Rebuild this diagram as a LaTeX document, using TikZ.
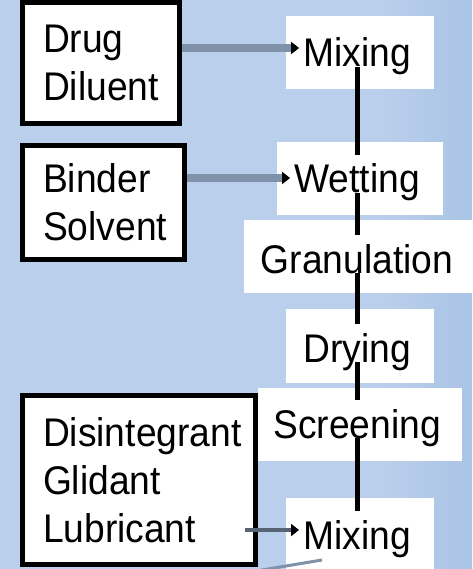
\documentclass[tikz,border=0pt]{standalone}
\usepackage{fontspec}
\setmainfont[FakeStretch=0.93]{Liberation Sans}
\usetikzlibrary{arrows.meta}
\hyphenpenalty=10000
\exhyphenpenalty=10000
\definecolor{bgA}{RGB}{186,207,235}
\definecolor{bgB}{RGB}{170,196,230}
\definecolor{feedc}{RGB}{128,145,170}
\definecolor{feedd}{RGB}{88,100,118}
\begin{document}
\begin{tikzpicture}[x=1pt,y=-1pt,
  every node/.style={font=\fontsize{40}{48}\selectfont},
  inbox/.style={draw=black, line width=5pt, fill=white, align=left, inner sep=0pt},
  stage/.style={fill=white, inner sep=0pt},
  steptext/.style={inner sep=0pt, text height=38pt, text depth=0pt},
  flow/.style={line width=5pt, draw=black},
  feed/.style={line width=8pt, draw=feedc, -{Triangle[length=8pt,width=12pt,color=black]}, shorten >=4pt}
]
% background
\fill[bgA] (0,0) rectangle (472,569);
\shade[left color=bgA, right color=bgB] (380,0) rectangle (472,569);
\useasboundingbox (0,0) rectangle (472,569);

% input boxes
\node[inbox, minimum width=157pt, minimum height=121pt, text width=116pt] (drug) at (101,63) {Drug\\Diluent};
\node[inbox, minimum width=162pt, minimum height=114pt, text width=121pt] (binder) at (103.5,202.5) {Binder\\Solvent};
\node[inbox, minimum width=233pt, minimum height=169pt, text width=192pt] (dis) at (139,480) {\mbox{Disintegrant}\\Glidant\\Lubricant};

% stage backgrounds
\node[stage, minimum width=148pt, minimum height=73pt] (mix1) at (360,52.5) {};
\node[stage, minimum width=166pt, minimum height=73pt] (wet) at (360,178.5) {};
\node[stage, minimum width=232pt, minimum height=73pt] (gran) at (360,256.5) {};
\node[stage, minimum width=148pt, minimum height=74pt] (dry) at (360,346) {};
\node[stage, minimum width=204pt, minimum height=73pt] (scr) at (360,424.5) {};
\node[stage, minimum width=148pt, minimum height=73pt] (mix2) at (360,534.5) {};

% stage texts
\node[steptext] (mix1t) at (357,48) {Mixing};
\node[steptext] (wett) at (357,174) {Wetting};
\node[steptext] (grant) at (357,254) {Granulation};
\node[steptext] (dryt) at (357,343) {Drying};
\node[steptext] (scrt) at (357,419) {Screening};
\node[steptext] (mix2t) at (357,530) {Mixing};

% main flow line
\draw[flow] (mix1t.south) -- (wett.north);
\draw[flow] (wett.south) -- (grant.north);
\draw[flow] (grant.south) -- (dryt.north);
\draw[flow] (dryt.south) -- (scrt.north);
\draw[flow] (scrt.south) -- (mix2t.north);

% feed arrows
\draw[feed] (drug.east |- mix1t.west) -- (mix1t.west);
\draw[feed] ([yshift=-4pt]binder.east |- wett.west) -- ([yshift=-4pt]wett.west);
\draw[feed, draw=feedd, line width=4pt] ([xshift=-13pt]dis.east |- mix2t.west) -- (mix2t.west);

% outgoing line at bottom
\coordinate (tailS) at (322,560);
\coordinate (tailE) at (250,572);
\draw[draw=feedc, line width=3pt] (tailS) -- (tailE);
\end{tikzpicture}
\end{document}
